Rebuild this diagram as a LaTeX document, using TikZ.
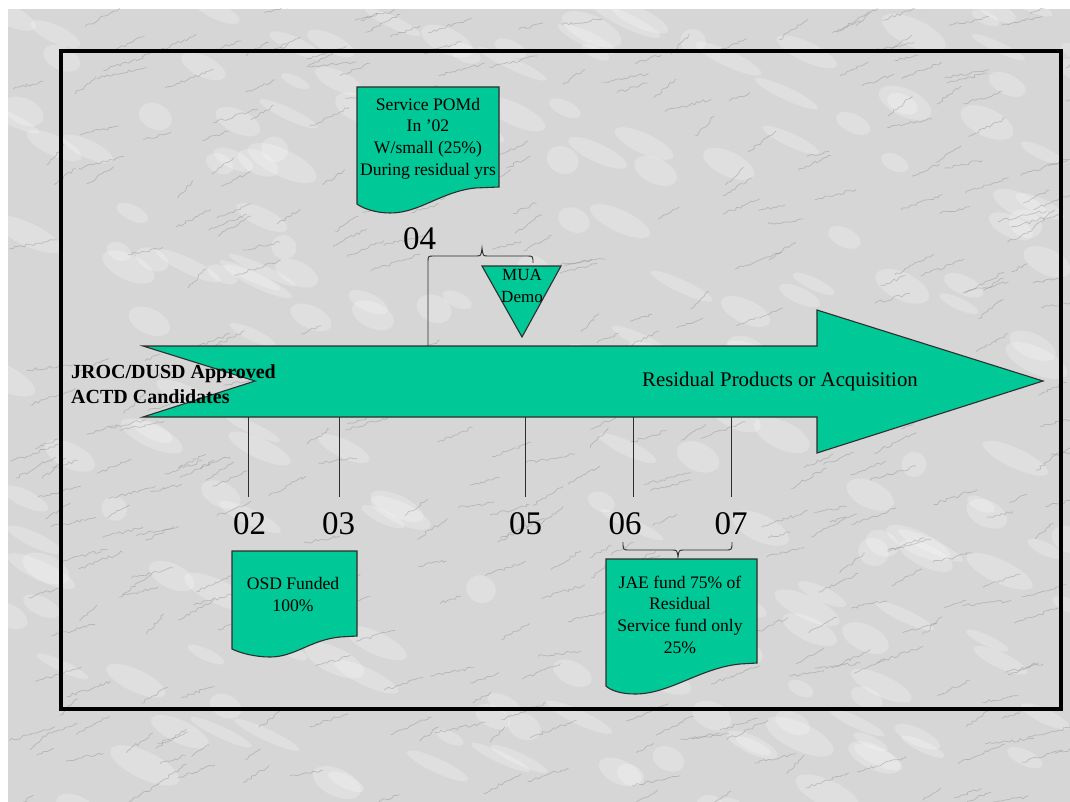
\documentclass[tikz,border=0pt]{standalone}
\usepackage{fontspec}
\setmainfont{Liberation Serif}
\usetikzlibrary{decorations.pathmorphing}
\definecolor{milestone}{HTML}{00C896}
\definecolor{marble}{HTML}{D6D6D6}
\definecolor{vein}{HTML}{8E8E8E}
\definecolor{outline}{HTML}{2E2E2E}
\tikzset{
  shapeline/.style={draw=outline, line width=1.1pt, fill=milestone},
  tick/.style={draw=outline, line width=0.9pt},
  yearlabel/.style={inner sep=0pt, font=\fontsize{33}{33}\selectfont},
  boxtext/.style={inner sep=0pt, align=center, font=\fontsize{17.6}{21.7}\selectfont},
}
\begin{document}
\begin{tikzpicture}[x=1pt, y=-1pt]
\useasboundingbox (0,0) rectangle (1070,802);
% marble backdrop
\fill[white] (0,0) rectangle (1070,802);
\fill[marble] (8,9) rectangle (1070,802);
\begin{scope}
\clip (8,9) rectangle (1070,802);
\pgfmathsetseed{17}
\foreach \i in {1,...,220}{
  \pgfmathsetmacro{\px}{rnd*1080}
  \pgfmathsetmacro{\py}{rnd*810}
  \pgfmathsetmacro{\rx}{12+rnd*26}
  \pgfmathsetmacro{\ry}{5+rnd*9}
  \fill[white, opacity=0.22] (\px,\py) ellipse [x radius=\rx, y radius=\ry, rotate=-25];
}
\foreach \i in {1,...,420}{
  \pgfmathsetmacro{\px}{rnd*1080}
  \pgfmathsetmacro{\py}{rnd*810}
  \pgfmathsetmacro{\dx}{15+rnd*35}
  \pgfmathsetmacro{\dy}{-5-rnd*16}
  \draw[vein, opacity=0.45, line width=0.7pt, decorate,
        decoration={random steps, segment length=3pt, amplitude=1.5pt}]
        (\px,\py) -- ++(\dx,\dy);
}
\end{scope}
% framing border
\draw[line width=4pt] (61,51) rectangle (1061,709);

% main timeline arrow
\draw[shapeline] (143,346) -- (817,346) -- (817,310) -- (1043,381)
  -- (817,453) -- (817,417) -- (143,417) -- (255,381) -- cycle;
\node[inner sep=0pt, anchor=west, align=left,
      font=\bfseries\fontsize{20}{25}\selectfont] (jroc) at (71,384.5)
  {JROC/DUSD Approved\\ACTD Candidates};
\node[inner sep=0pt, font=\fontsize{20.8}{24}\selectfont] (resid) at (780,381)
  {Residual Products or Acquisition};

% year ticks below the arrow
\foreach \n/\x/\lx in {02/248/249.5, 03/339/338.5, 05/525/525.5, 06/633/625, 07/731/731}{
  \coordinate (a\n) at (\x,417);
  \coordinate (e\n) at (\x,497);
  \draw[tick] (a\n) -- (e\n);
  \node[yearlabel] (l\n) at (\lx,523.5) {\n};
}

% year 04 above the arrow, with bracket over the demo
\coordinate (a04) at (428,346);
\coordinate (b04) at (533,263);
\node[yearlabel] (l04) at (419.5,238.5) {04};
\draw[tick] (a04) -- (428,262) .. controls (428,256) .. (434,256) -- (476,256)
  .. controls (481,256) .. (482,248) .. controls (483,256) .. (488,256)
  -- (527,256) .. controls (533,256) .. (b04);

% MUA demo marker
\draw[shapeline] (482,266) -- (561,266) -- (522,337) -- cycle;
\node[inner sep=0pt, align=center, font=\fontsize{17}{22}\selectfont] (mua) at (522,286)
  {MUA\\Demo};

% service note (top)
\draw[shapeline] (357,87) -- (499,87) -- (499,187) -- (475,188)
  .. controls (440,192) and (420,213) .. (390,213)
  .. controls (375,213) and (362,208) .. (357,204) -- cycle;
\node[boxtext] (svc) at (428,138.5)
  {Service POMd\\In '02\\W/small (25\%)\\During residual yrs};

% OSD note
\draw[shapeline] (232,551) -- (357,551) -- (357,636) -- (340,637)
  .. controls (310,640) and (295,657) .. (270,657)
  .. controls (255,657) and (240,653) .. (232,649) -- cycle;
\node[boxtext] (osd) at (293,594.5) {OSD Funded\\100\%};

% bracket spanning 06 to 07
\coordinate (c06) at (623,542);
\coordinate (c07) at (732,542);
\draw[tick] (c06) .. controls (623,550) .. (630,550) -- (672,550)
  .. controls (677,550) .. (678,557) .. controls (679,550) .. (684,550)
  -- (725,550) .. controls (732,550) .. (c07);

% JAE note
\draw[shapeline] (606,559) -- (757,559) -- (757,663) -- (740,664)
  .. controls (700,668) and (670,694) .. (635,694)
  .. controls (620,694) and (610,690) .. (606,686) -- cycle;
\node[boxtext] (jae) at (680,614.5)
  {JAE fund 75\% of\\Residual\\Service fund only\\25\%};
\end{tikzpicture}
\end{document}
